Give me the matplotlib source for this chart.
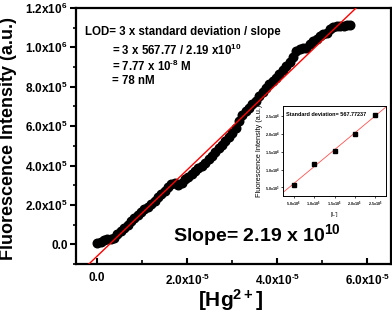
import numpy as np
import matplotlib
matplotlib.use("Agg")
import matplotlib.pyplot as plt
from matplotlib.ticker import FixedLocator, MultipleLocator

plt.rcParams['font.family'] = ['Liberation Sans', 'DejaVu Sans']
plt.rcParams['font.weight'] = 'bold'
plt.rcParams['mathtext.fontset'] = 'custom'
plt.rcParams['mathtext.rm'] = 'Liberation Sans:bold'
plt.rcParams['mathtext.it'] = 'Liberation Sans:bold'
plt.rcParams['mathtext.bf'] = 'Liberation Sans:bold'
plt.rcParams['mathtext.default'] = 'rm'

# main titration data: x in 1e-5 M, y in 1e5 a.u.
conc = [0.0, 0.075, 0.15, 0.225, 0.3, 0.375, 0.45, 0.525, 0.6, 0.675,
        0.75, 0.825, 0.9, 0.975, 1.05, 1.125, 1.2, 1.275, 1.35, 1.425,
        1.5, 1.575, 1.65, 1.725, 1.8, 1.875, 1.95, 2.025, 2.1, 2.175,
        2.25, 2.325, 2.4, 2.475, 2.55, 2.625, 2.7, 2.775, 2.85, 2.925,
        3.0, 3.075, 3.15, 3.225, 3.3, 3.375, 3.45, 3.525, 3.6, 3.675,
        3.75, 3.825, 3.9, 3.975, 4.05, 4.125, 4.2, 4.275, 4.35, 4.425,
        4.5, 4.575, 4.65, 4.725, 4.8, 4.875, 4.95, 5.025, 5.1, 5.175,
        5.25, 5.325, 5.4, 5.475, 5.55, 5.625]
intensity = [0.05, 0.12, 0.2, 0.25, 0.28, 0.32, 0.5, 0.7, 0.85, 1.0,
             1.2, 1.35, 1.5, 1.65, 1.8, 1.9, 2.05, 2.2, 2.4, 2.55,
             2.7, 2.9, 3.05, 3.1, 3.0, 3.1, 3.3, 3.4, 3.55, 3.7,
             3.85, 4.0, 4.15, 4.35, 4.5, 4.7, 4.9, 5.05, 5.25, 5.45,
             5.65, 5.9, 6.25, 6.55, 6.75, 6.9, 7.1, 7.3, 7.55, 7.75,
             7.95, 8.15, 8.3, 8.45, 8.65, 8.85, 9.05, 9.25, 9.5, 9.8,
             9.9, 9.95, 9.95, 10.15, 10.3, 10.45, 10.6, 10.7, 10.75, 10.95,
             11.05, 11.1, 11.1, 11.1, 11.12, 11.12]
slope = 2.19e10
intercept = -6.0e4

# inset data (x in 1e-6, y in 1e3)
inset_x = [5, 10, 15, 20, 25]
inset_y = [5.8, 11.5, 15.2, 20.0, 25.3]

x_ticks = [0.0, 2e-5, 4e-5, 6e-5]
x_ticklabels = ["0.0", r"2.0x10$^{\text{-}5}$", r"4.0x10$^{\text{-}5}$", r"6.0x10$^{\text{-}5}$"]
y_ticks = [0.0, 2e5, 4e5, 6e5, 8e5, 1e6, 1.2e6]
y_ticklabels = ["0.0", "2.0x10$^{5}$", "4.0x10$^{5}$", "6.0x10$^{5}$",
                "8.0x10$^{5}$", "1.0x10$^{6}$", "1.2x10$^{6}$"]
inset_xticklabels = [r"5.0x10$^{\text{-}6}$", r"1.0x10$^{\text{-}5}$", r"1.5x10$^{\text{-}5}$",
                     r"2.0x10$^{\text{-}5}$", r"2.5x10$^{\text{-}5}$"]
inset_yticklabels = ["5.0x10$^{3}$", "1.0x10$^{4}$", "1.5x10$^{4}$",
                     "2.0x10$^{4}$", "2.5x10$^{4}$"]

W, H = 392, 317
fig = plt.figure(figsize=(W / 100, H / 100), dpi=100)
ax = fig.add_axes([76 / W, 1 - 264 / H, 315 / W, 256 / H])

xs = np.array(conc) * 1e-5
ys = np.array(intensity) * 1e5
ax.plot(xs, ys, 'o', color='black', ms=6.2, zorder=2)
xl = np.array([-0.5e-5, 6.5e-5])
ax.plot(xl, slope * xl + intercept, color='red', lw=1.0, zorder=3)

ax.set_xlim(-0.47e-5, 6.53e-5)
ax.set_ylim(-1.0e5, 1.2e6)
ax.xaxis.set_major_locator(FixedLocator(x_ticks))
ax.set_xticklabels(x_ticklabels, fontsize=8.5, fontweight='bold')
ax.xaxis.set_minor_locator(MultipleLocator(1e-5))
ax.yaxis.set_major_locator(FixedLocator(y_ticks))
ax.set_yticklabels(y_ticklabels, fontsize=8.5, fontweight='bold')
ax.yaxis.set_minor_locator(MultipleLocator(1e5))
ax.tick_params(axis='x', which='major', direction='in', length=4, width=1.5, pad=6)
ax.tick_params(axis='x', which='minor', direction='in', length=3, width=1.2)
ax.tick_params(axis='y', which='major', direction='out', length=4, width=1.5, pad=2)
ax.tick_params(axis='y', which='minor', direction='out', length=2.5, width=1.2)
for s in ax.spines.values():
    s.set_linewidth(1.6)

fig.text(9 / W, 1 - 138 / H, "Fluorescence Intensity (a.u.)", rotation=90,
         ha='center', va='center', fontsize=13, fontweight='bold')
fig.text(231 / W, 1 - 300 / H, "[Hg$^{2+}$]", ha='center', va='center',
         fontsize=15, fontweight='bold')

ax.text(0.029, 0.906, "LOD= 3 x standard deviation / slope", transform=ax.transAxes,
        fontsize=8.3, fontweight='bold', va='center')
ax.text(0.114, 0.836, "= 3 x 567.77 / 2.19 x10$^{10}$", transform=ax.transAxes,
        fontsize=8.3, fontweight='bold', va='center')
ax.text(0.114, 0.770, r"= 7.77 x 10$^{\text{-}8}$ M", transform=ax.transAxes,
        fontsize=8.3, fontweight='bold', va='center')
ax.text(0.114, 0.715, "= 78 nM", transform=ax.transAxes,
        fontsize=8.3, fontweight='bold', va='center')
ax.text(0.308, 0.113, "Slope= 2.19 x 10$^{10}$", transform=ax.transAxes,
        fontsize=14, fontweight='bold', va='center')

# inset
ins = fig.add_axes([283 / W, 1 - 196 / H, 103 / W, 90 / H])
ins.plot(inset_x, inset_y, 's', color='black', ms=2.2, zorder=3)
p = np.polyfit(inset_x, inset_y, 1)
xi = np.array([2.4, 27.6])
ins.plot(xi, np.polyval(p, xi), color='#ff5050', lw=0.6, zorder=2)
ins.set_xlim(2.4, 27.6)
ins.set_ylim(2.6, 27.8)
ins.set_xticks(inset_x)
ins.set_xticklabels(inset_xticklabels, fontsize=2.6)
ins.set_yticks([5, 10, 15, 20, 25])
ins.set_yticklabels(inset_yticklabels, fontsize=2.6)
ins.tick_params(length=1.5, width=0.5, pad=1)
for s in ins.spines.values():
    s.set_linewidth(0.7)
ins.set_xlabel(r"[L$^{\text{-}}$]", fontsize=3.8, labelpad=1)
ins.set_ylabel("Fluorescence Intensity (a.u.)", fontsize=5.3, labelpad=1.5)
ins.text(0.03, 0.9, "Standard deviation= 567.77237", transform=ins.transAxes,
         fontsize=4.0, fontweight='bold', va='center')

fig.savefig("out.png", dpi=100)
